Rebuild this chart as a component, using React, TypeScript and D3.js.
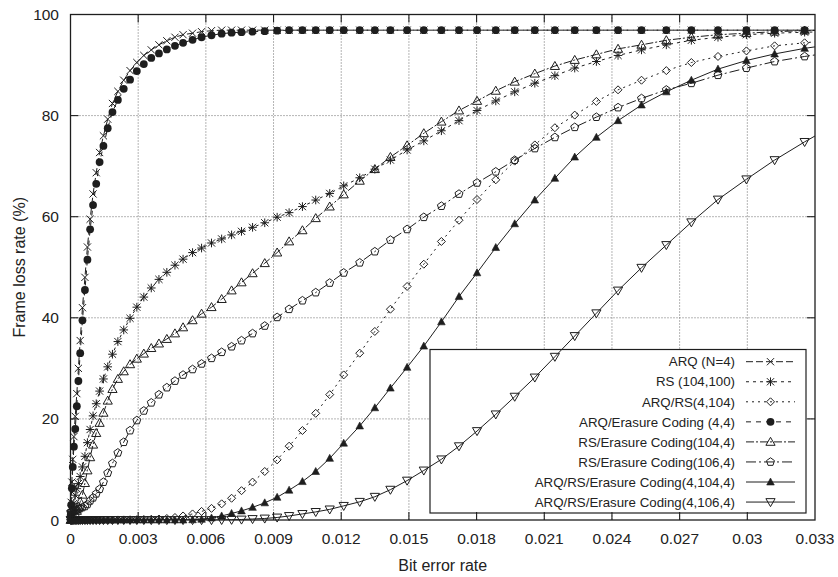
import React from 'react';
import * as d3 from 'd3';

// Bit error rate at which every scheme was evaluated
const BER = [
  0.00001, 0.00003, 0.00006, 0.0001, 0.00015, 0.00021, 0.00028, 0.00035, 0.00043, 0.00053,
  0.00064, 0.00075, 0.00087, 0.001, 0.00114, 0.00129, 0.00146, 0.00165, 0.00186, 0.0021,
  0.00236, 0.00264, 0.00294, 0.00325, 0.00358, 0.00392, 0.00427, 0.00463, 0.00499, 0.00541,
  0.00581, 0.00625, 0.0067, 0.00714, 0.00758, 0.00807, 0.00861, 0.00916, 0.00969, 0.01028,
  0.01087, 0.01149, 0.01211, 0.01282, 0.01349, 0.01418, 0.01492, 0.01566, 0.01644, 0.01722,
  0.01802, 0.01885, 0.01969, 0.02058, 0.02147, 0.02235, 0.02331, 0.02427, 0.02531, 0.02641,
  0.02752, 0.0287, 0.02996, 0.03121, 0.03254, 0.03392,
];

// Frame loss rate (%) per scheme
const ARQ_N4 = [
  1.2, 3.5, 7.5, 12, 16.5, 20.5, 25, 30, 35.5, 42,
  48, 54, 59.5, 64.5, 68.7, 72.7, 76, 79.3, 82.4, 84.8,
  87.0, 88.9, 90.5, 91.9, 93.0, 94.0, 94.8, 95.5, 96.0, 96.3,
  96.6, 96.8, 96.9, 96.9, 96.9, 96.9, 96.9, 96.9, 96.9, 96.9,
  96.9, 96.9, 96.9, 96.9, 96.9, 96.9, 96.9, 96.9, 96.9, 96.9,
  96.9, 96.9, 96.9, 96.9, 96.9, 96.9, 96.9, 96.9, 96.9, 96.9,
  96.9, 96.9, 96.9, 96.9, 96.9, 96.9,
];
const RS_104_100 = [
  0.1, 0.4, 1.0, 2.0, 3.3, 4.9, 6.2, 7.2, 8.6, 10.5,
  12.6, 15.3, 17.9, 20.6, 23.0, 25.5, 27.9, 30.3, 32.8, 35.3,
  37.6, 39.9, 42.1, 44.1, 45.9, 47.6, 49.0, 50.4, 51.6, 52.9,
  53.8, 54.8, 55.6, 56.4, 57.1, 57.9, 58.8, 59.9, 60.8, 62.0,
  63.3, 64.6, 66.1, 67.7, 69.4, 71.2, 73.2, 75.0, 77.0, 79.0,
  81.0, 82.9, 84.7, 86.4, 87.9, 89.4, 90.7, 91.9, 93.0, 94.0,
  94.9, 95.5, 96.0, 96.3, 96.5, 96.6,
];
const ARQ_RS_4_104 = [
  0, 0, 0, 0, 0, 0, 0, 0, 0, 0,
  0, 0, 0, 0, 0, 0, 0, 0, 0, 0.01,
  0.02, 0.04, 0.06, 0.1, 0.15, 0.2, 0.3, 0.5, 0.8, 1.2,
  1.7, 2.3, 3.2, 4.3, 5.8, 7.5, 9.6, 11.9, 14.6, 17.7,
  21.1, 24.8, 28.7, 33.0, 37.3, 41.7, 46.2, 50.6, 55.1, 59.3,
  63.4, 67.3, 71.0, 74.2, 77.6, 80.1, 82.8, 85.1, 87.0, 88.9,
  90.5, 91.7, 92.8, 93.8, 94.4, 95.0,
];
const ARQ_EC_4_4 = [
  1.0, 3.0, 6.3, 10.5, 14.5, 18.0, 22.5, 27.5, 33, 39.5,
  45.5, 51.5, 57.5, 62.3, 66.5, 70.8, 74.0, 77.5, 80.7, 83.1,
  85.3, 87.1, 88.8, 90.2, 91.4, 92.3, 93.1, 93.8, 94.4, 95.0,
  95.5, 95.9, 96.2, 96.4, 96.5, 96.6, 96.7, 96.8, 96.9, 96.9,
  96.9, 96.9, 96.9, 96.9, 96.9, 96.9, 96.9, 96.9, 96.9, 96.9,
  96.9, 96.9, 96.9, 96.9, 96.9, 96.9, 96.9, 96.9, 96.9, 96.9,
  96.9, 96.9, 96.9, 96.9, 96.9, 96.9,
];
const RS_EC_104_4 = [
  0.01, 0.05, 0.2, 0.4, 0.7, 1.2, 1.8, 2.6, 3.6, 5.0,
  7.3, 9.8, 12.4, 14.9, 17.2, 19.2, 21.2, 23.6, 25.9, 27.9,
  29.4, 30.8, 31.9, 32.9, 34.0, 34.9, 35.8, 36.9, 38.1, 39.5,
  40.8, 42.1, 43.7, 45.4, 47.0, 48.8, 50.8, 52.9, 55.1, 57.3,
  59.7, 62.0, 64.4, 67.1, 69.4, 71.8, 74.1, 76.5, 78.8, 81.0,
  82.9, 84.9, 86.7, 88.3, 89.8, 91.0, 92.1, 93.2, 94.0, 94.9,
  95.5, 96.0, 96.3, 96.6, 96.8, 96.9,
];
const RS_EC_106_4 = [
  1.6, 1.65, 1.7, 1.75, 1.8, 1.9, 2.0, 2.1, 2.3, 2.5,
  2.7, 3.1, 3.8, 4.4, 5.2, 6.1, 7.5, 9.3, 11.2, 13.3,
  15.4, 17.7, 19.7, 21.6, 23.2, 24.8, 26.2, 27.5, 28.7, 29.8,
  30.9, 32.0, 33.2, 34.3, 35.5, 36.9, 38.4, 40.1, 41.7, 43.4,
  45.0, 46.9, 48.9, 50.9, 53.1, 55.4, 57.5, 59.9, 62.1, 64.5,
  66.7, 68.9, 71.2, 73.5, 75.7, 77.7, 79.7, 81.6, 83.4, 85.1,
  86.4, 88.0, 89.4, 90.7, 91.7, 92.6,
];
const ARQ_RS_EC_4_104_4 = [
  0, 0, 0, 0, 0, 0, 0, 0, 0, 0,
  0, 0, 0, 0, 0, 0, 0, 0, 0, 0,
  0, 0, 0, 0, 0, 0, 0, 0, 0, 0.05,
  0.15, 0.4, 0.8, 1.3, 1.8, 2.5, 3.4, 4.5, 5.9, 7.6,
  9.6, 12.2, 15.2, 18.6, 22.2, 26.1, 30.2, 34.4, 39.2, 44.2,
  48.9, 53.9, 58.6, 63.3, 67.6, 71.8, 75.7, 79.0, 82.1, 84.7,
  87.0, 89.2, 90.9, 92.2, 93.3, 94.2,
];
const ARQ_RS_EC_4_106_4 = [
  0, 0, 0, 0, 0, 0, 0, 0, 0, 0,
  0, 0, 0, 0, 0, 0, 0, 0, 0, 0,
  0, 0, 0, 0, 0, 0, 0, 0, 0, 0,
  0, 0, 0.02, 0.05, 0.1, 0.2, 0.3, 0.5, 0.8, 1.2,
  1.6, 2.1, 2.8, 3.6, 4.6, 6.0, 7.8, 9.8, 12.0, 14.6,
  17.6, 20.9, 24.4, 28.2, 32.3, 36.4, 40.9, 45.4, 49.9, 54.4,
  58.9, 63.4, 67.4, 71.2, 74.8, 78.3,
];

const SERIES_NAMES = [
  'ARQ (N=4)',
  'RS (104,100)',
  'ARQ/RS(4,104)',
  'ARQ/Erasure Coding (4,4)',
  'RS/Erasure Coding(104,4)',
  'RS/Erasure Coding(106,4)',
  'ARQ/RS/Erasure Coding(4,104,4)',
  'ARQ/RS/Erasure Coding(4,106,4)',
];
const SERIES_VALUES = [
  ARQ_N4, RS_104_100, ARQ_RS_4_104, ARQ_EC_4_4,
  RS_EC_104_4, RS_EC_106_4, ARQ_RS_EC_4_104_4, ARQ_RS_EC_4_106_4,
];

const X_TICKS = [0, 0.003, 0.006, 0.009, 0.012, 0.015, 0.018, 0.021, 0.024, 0.027, 0.03, 0.033];
const X_TICK_LABELS = ['0', '0.003', '0.006', '0.009', '0.012', '0.015', '0.018', '0.021', '0.024', '0.027', '0.03', '0.033'];
const Y_TICKS = [0, 20, 40, 60, 80, 100];
const Y_TICK_LABELS = ['0', '20', '40', '60', '80', '100'];

// Drawing style for each series (marker glyph and line dash pattern)
type MarkerKind = 'x' | 'star' | 'diamond' | 'dot' | 'tri' | 'pent' | 'triFill' | 'triDown';
const STYLES: { marker: MarkerKind; dash: string }[] = [
  { marker: 'x', dash: '7,3' },
  { marker: 'star', dash: '3,4' },
  { marker: 'diamond', dash: '2,4' },
  { marker: 'dot', dash: '5,5' },
  { marker: 'tri', dash: '8,2,2,2' },
  { marker: 'pent', dash: '10,3,2,3' },
  { marker: 'triFill', dash: '' },
  { marker: 'triDown', dash: '' },
];

const W = 838;
const H = 577;
const M = { left: 70.5, right: 815, top: 14.5, bottom: 520 };
const INK = '#1e1e1e';
const FONT = '"Liberation Sans", Arial, Helvetica, sans-serif';

function Marker({ kind, x, y }: { kind: MarkerKind; x: number; y: number }) {
  const s = 3.6;
  const common = { stroke: INK, strokeWidth: 1, fill: 'none' };
  switch (kind) {
    case 'x':
      return <path {...common} d={`M${x - s},${y - s}L${x + s},${y + s}M${x - s},${y + s}L${x + s},${y - s}`} />;
    case 'star':
      return (
        <path
          {...common}
          d={`M${x - s},${y - s}L${x + s},${y + s}M${x - s},${y + s}L${x + s},${y - s}M${x - s * 1.2},${y}L${x + s * 1.2},${y}M${x},${y - s * 1.2}L${x},${y + s * 1.2}`}
        />
      );
    case 'diamond':
      return <path {...common} d={`M${x},${y - 4}L${x + 4},${y}L${x},${y + 4}L${x - 4},${y}Z`} />;
    case 'dot':
      return <circle cx={x} cy={y} r={3.9} fill={INK} stroke="none" />;
    case 'tri':
      return <path {...common} d={`M${x},${y - 4.6}L${x + 4.6},${y + 3.4}L${x - 4.6},${y + 3.4}Z`} />;
    case 'pent': {
      const pts = d3.range(5).map((i) => {
        const a = -Math.PI / 2 + (i * 2 * Math.PI) / 5;
        return [x + 4.2 * Math.cos(a), y + 4.2 * Math.sin(a)];
      });
      return <path {...common} d={`M${pts.map((p) => p.join(',')).join('L')}Z`} />;
    }
    case 'triFill':
      return <path fill={INK} stroke={INK} strokeWidth={0.6} d={`M${x},${y - 4}L${x + 3.8},${y + 3}L${x - 3.8},${y + 3}Z`} />;
    case 'triDown':
      return <path {...common} d={`M${x},${y + 4.6}L${x + 4.6},${y - 3.4}L${x - 4.6},${y - 3.4}Z`} />;
  }
  return null;
}

export default function App() {
  const x = d3.scaleLinear().domain([0, 0.033]).range([M.left, M.right]);
  const y = d3.scaleLinear().domain([0, 100]).range([M.bottom, M.top]);
  const line = d3
    .line<number>()
    .x((_, i) => x(BER[i]))
    .y((v) => y(v));

  const legend = { left: 430, top: 349.5, right: 806, bottom: 513, rowTop: 361.7, rowStep: 20.05, textRight: 735, sampleL: 746, sampleR: 795 };

  return (
    <svg
      width={W}
      height={H}
      viewBox={`0 0 ${W} ${H}`}
      style={{ position: 'absolute', left: 0, top: 0, background: '#fff' }}
      fontFamily={FONT}
    >
      <defs>
        <clipPath id="plot-area">
          <rect x={M.left} y={M.top} width={M.right - M.left} height={M.bottom - M.top} />
        </clipPath>
      </defs>
      <rect x={0} y={0} width={W} height={H} fill="#fff" />

      {/* grid */}
      <g stroke="#6a6a6a" strokeWidth={1} strokeDasharray="1,2">
        {X_TICKS.slice(1, -1).map((t) => (
          <line key={`gx${t}`} x1={x(t)} x2={x(t)} y1={M.top} y2={M.bottom} />
        ))}
        {Y_TICKS.slice(1, -1).map((t) => (
          <line key={`gy${t}`} x1={M.left} x2={M.right} y1={y(t)} y2={y(t)} />
        ))}
      </g>

      {/* key box sits over the grid */}
      <rect
        x={legend.left}
        y={legend.top}
        width={legend.right - legend.left}
        height={legend.bottom - legend.top}
        fill="#fff"
        stroke={INK}
        strokeWidth={1.2}
      />

      {/* ticks */}
      <g stroke={INK} strokeWidth={1.1}>
        {X_TICKS.slice(1, -1).map((t) => (
          <g key={`tx${t}`}>
            <line x1={x(t)} x2={x(t)} y1={M.bottom} y2={M.bottom - 8} />
            <line x1={x(t)} x2={x(t)} y1={M.top} y2={M.top + 8} />
          </g>
        ))}
        {Y_TICKS.slice(1, -1).map((t) => (
          <g key={`ty${t}`}>
            <line x1={M.left} x2={M.left + 8} y1={y(t)} y2={y(t)} />
            <line x1={M.right} x2={M.right - 8} y1={y(t)} y2={y(t)} />
          </g>
        ))}
      </g>

      {/* curves */}
      <g clipPath="url(#plot-area)">
        {SERIES_VALUES.map((vals, si) => (
          <path
            key={`l${si}`}
            d={line(vals) || ''}
            fill="none"
            stroke={INK}
            strokeWidth={1}
            strokeDasharray={STYLES[si].dash || undefined}
          />
        ))}
      </g>
      <g>
        {SERIES_VALUES.map((vals, si) => (
          <g key={`m${si}`}>
            {vals.map((v, i) =>
              BER[i] <= 0.033 ? <Marker key={i} kind={STYLES[si].marker} x={x(BER[i])} y={y(v)} /> : null
            )}
          </g>
        ))}
      </g>

      {/* border */}
      <rect
        x={M.left}
        y={M.top}
        width={M.right - M.left}
        height={M.bottom - M.top}
        fill="none"
        stroke={INK}
        strokeWidth={1.3}
      />

      {/* tick labels */}
      <g fontSize={15.5} fill="#222">
        {X_TICKS.map((t, i) => (
          <text key={`lx${t}`} x={x(t)} y={544} textAnchor="middle">
            {X_TICK_LABELS[i]}
          </text>
        ))}
        {Y_TICKS.map((t, i) => (
          <text key={`ly${t}`} x={59} y={y(t) + 5.5} textAnchor="end">
            {Y_TICK_LABELS[i]}
          </text>
        ))}
      </g>

      {/* axis titles */}
      <text x={(M.left + M.right) / 2} y={571} textAnchor="middle" fontSize={16} fill="#222">
        Bit error rate
      </text>
      <text
        transform={`translate(25,${(M.top + M.bottom) / 2}) rotate(-90)`}
        textAnchor="middle"
        fontSize={16}
        fill="#222"
      >
        Frame loss rate (%)
      </text>

      {/* key entries */}
      <g fontSize={13.3} fill="#222">
        {SERIES_NAMES.map((name, si) => {
          const cy = legend.rowTop + si * legend.rowStep;
          const cx = (legend.sampleL + legend.sampleR) / 2;
          return (
            <g key={`k${si}`}>
              <text x={legend.textRight} y={cy + 4.7} textAnchor="end">
                {name}
              </text>
              <line
                x1={legend.sampleL}
                x2={legend.sampleR}
                y1={cy}
                y2={cy}
                stroke={INK}
                strokeWidth={1}
                strokeDasharray={STYLES[si].dash || undefined}
              />
              <Marker kind={STYLES[si].marker} x={cx} y={cy} />
            </g>
          );
        })}
      </g>
    </svg>
  );
}
